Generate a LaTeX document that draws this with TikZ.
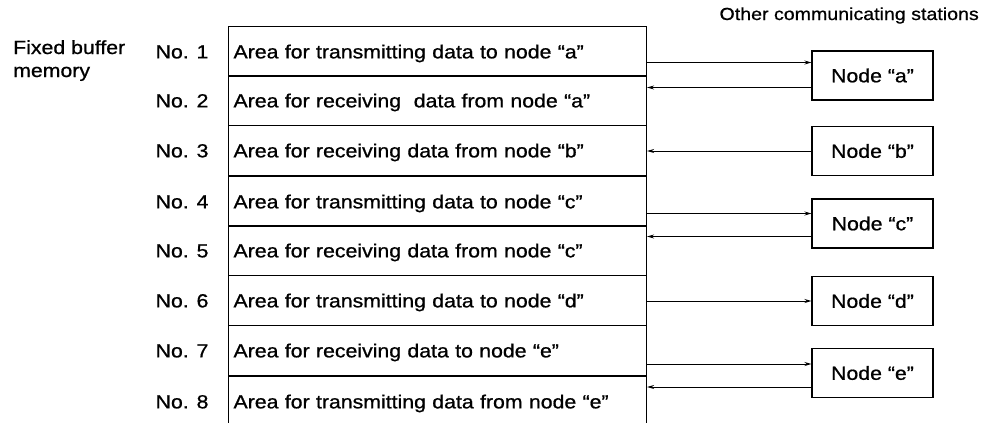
\documentclass[tikz,border=0pt]{standalone}
\usepackage{fontspec}
\setmainfont{Liberation Sans}[FakeStretch=1.12, FakeBold=0.8]
\usetikzlibrary{arrows.meta}
\begin{document}
\begin{tikzpicture}[x=1pt,y=-1pt,
  every node/.style={font=\fontsize{19}{22}\selectfont, text height=13.6pt, text depth=0pt},
  rowbox/.style={draw, line width=1.1pt, anchor=north west, minimum width=418pt, minimum height=50pt,
    text width=408pt, align=left, inner xsep=5pt},
  numlabel/.style={anchor=east},
  stbox/.style={draw, line width=1.1pt, minimum width=121pt, minimum height=49pt, inner sep=0pt},
  plain/.style={text height=, text depth=, inner sep=0pt},
  arr/.style={line width=0.9pt, -{Stealth[length=7pt,width=4pt]}}]
\clip (0,0) rectangle (996,423);
\node[rowbox] (r1) at (228,26) {Area for transmitting data to node “a”};
\node[rowbox] (r2) at (228,75) {Area for receiving~ data from node “a”};
\node[rowbox] (r3) at (228,125) {Area for receiving data from node “b”};
\node[rowbox] (r4) at (228,176) {Area for transmitting data to node “c”};
\node[rowbox] (r5) at (228,225) {Area for receiving data from node “c”};
\node[rowbox] (r6) at (228,275) {Area for transmitting data to node “d”};
\node[rowbox] (r7) at (228,325) {Area for receiving data to node “e”};
\node[rowbox] (r8) at (228,376) {Area for transmitting data from node “e”};
\foreach \i in {1,...,8} {
  \node[numlabel] (n\i) at ([xshift=-16pt]r\i.west) {No. \i};
}
\node[plain, anchor=base west] (fb1) at (13,54) {Fixed buffer};
\node[plain, anchor=base west] (fb2) at (13,77) {memory};
\node[plain, anchor=base east, font=\fontsize{17.5}{20}\selectfont] (ocs) at (979,20) {Other communicating stations};
\node[stbox] (na) at (872.5,75.5) {Node “a”};
\node[stbox] (nb) at (872.5,151) {Node “b”};
\node[stbox] (nc) at (872.5,223.5) {Node “c”};
\node[stbox] (nd) at (872.5,301) {Node “d”};
\node[stbox] (ne) at (872.5,373) {Node “e”};
\coordinate (a1) at ([yshift=13pt]na.west);
\coordinate (a2) at ([yshift=-12pt]na.west);
\coordinate (c1) at ([yshift=10pt]nc.west);
\coordinate (c2) at ([yshift=-13pt]nc.west);
\coordinate (e1) at ([yshift=9pt]ne.west);
\coordinate (e2) at ([yshift=-14pt]ne.west);
\draw[arr] (a1 -| r1.east) -- (a1);
\draw[arr] (a2) -- (a2 -| r2.east);
\draw[arr] (nb.west) -- (nb.west -| r3.east);
\draw[arr] (c1 -| r4.east) -- (c1);
\draw[arr] (c2) -- (c2 -| r5.east);
\draw[arr] (nd.west -| r6.east) -- (nd.west);
\draw[arr] (e1 -| r7.east) -- (e1);
\draw[arr] (e2) -- (e2 -| r8.east);
\end{tikzpicture}
\end{document}
